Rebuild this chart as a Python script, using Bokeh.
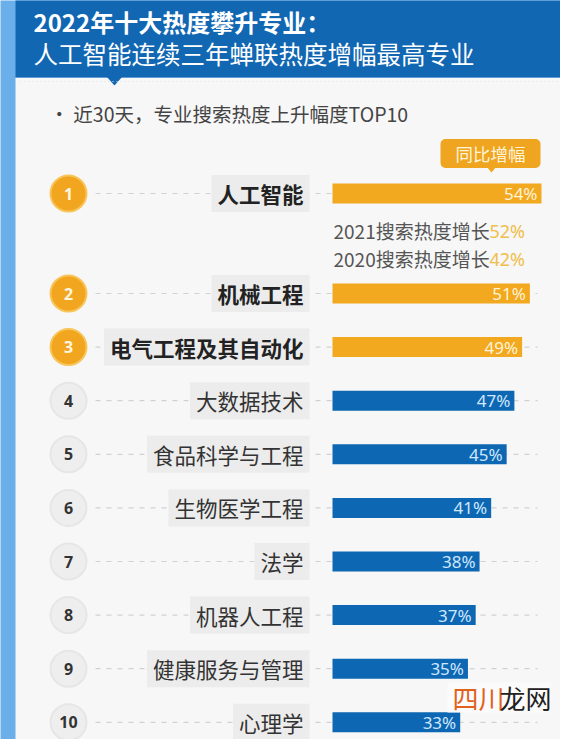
from bokeh.plotting import figure
from bokeh.models import Range1d, ColumnDataSource
from bokeh.core.properties import value
from bokeh.embed import file_html
from bokeh.resources import INLINE

# ---------------- data ----------------
title_line1 = "2022年十大热度攀升专业："
title_line2 = "人工智能连续三年蝉联热度增幅最高专业"
subtitle = "· 近30天，专业搜索热度上升幅度TOP10"
tag_label = "同比增幅"

ranks = [1, 2, 3, 4, 5, 6, 7, 8, 9, 10]
majors = ["人工智能", "机械工程", "电气工程及其自动化", "大数据技术", "食品科学与工程",
          "生物医学工程", "法学", "机器人工程", "健康服务与管理", "心理学"]
growth = [54, 51, 49, 47, 45, 41, 38, 37, 35, 33]

ai_history_years = ["2021", "2020"]
ai_history_growth = [52, 42]
ai_history_text = "搜索热度增长"

watermark_a = "四川"
watermark_b = "龙网"

# ---------------- layout / style ----------------
FONT = "Noto Sans CJK SC"
W, H = 560, 739
CARD_L, CARD_R = 15, 567
HEADER_B = 77
BAR_X0 = 332          # pixel where 0 % starts
PX_PER_PCT = 3.87     # pixels per percentage point
ROW1_Y, ROW2_Y, ROW_STEP = 193, 293, 53.6
CIRCLE_X = 68
LABEL_RIGHT = 309
DASH_X0, DASH_X1 = 95, 537
TOP_N = 3

ORANGE = "#F2A81F"
BLUE = "#0D67B3"
HEADER_BLUE = "#1267B3"
OUTER_BLUE = "#6AAEEA"
CARD = "#F7F7F7"

row_y = [ROW1_Y if i == 0 else ROW2_Y + ROW_STEP * (i - 1) for i in range(len(ranks))]
is_top = [r <= TOP_N for r in ranks]

src = ColumnDataSource(dict(
    rank=[str(r) for r in ranks],
    major=majors,
    growth=growth,
    pct=[f"{g}%" for g in growth],
    y=row_y,
    bar_color=[ORANGE if t else BLUE for t in is_top],
    pct_color=["#FFF4D6" if t else "#CFE8FF" for t in is_top],
    circ_fill=["#F2A51E" if t else "#EEEEEE" for t in is_top],
    circ_line=["#F7C55A" if t else "#E6E6E6" for t in is_top],
    num_color=["#FFF6E0" if t else "#333333" for t in is_top],
))
top_idx = [i for i, t in enumerate(is_top) if t]
rest_idx = [i for i, t in enumerate(is_top) if not t]
src_top = ColumnDataSource(dict(major=[majors[i] for i in top_idx], y=[row_y[i] for i in top_idx]))
src_rest = ColumnDataSource(dict(major=[majors[i] for i in rest_idx], y=[row_y[i] for i in rest_idx]))

p = figure(width=W, height=H, x_range=Range1d(0, W), y_range=Range1d(H, 0),
           output_backend="svg", toolbar_location=None,
           x_axis_location=None, y_axis_location=None, min_border=0,
           outline_line_color=None, background_fill_color=OUTER_BLUE,
           border_fill_color=OUTER_BLUE)
p.grid.visible = False
p.extra_x_ranges = {"val": Range1d((0 - BAR_X0) / PX_PER_PCT, (W - BAR_X0) / PX_PER_PCT)}

# card and header
p.quad(left=CARD_L, right=CARD_R, top=HEADER_B, bottom=H + 30, fill_color=CARD, line_color=None)
p.quad(left=CARD_L, right=CARD_R, top=-10, bottom=HEADER_B, fill_color=HEADER_BLUE, line_color=None)
p.patch(x=[106, 122, 114], y=[HEADER_B - 1, HEADER_B - 1, HEADER_B + 8], fill_color=HEADER_BLUE, line_color=None)
p.segment(x0=[CARD_L + 5], y0=[HEADER_B + 4], x1=[CARD_R - 5], y1=[HEADER_B + 4],
          line_color="#E2E2E2", line_dash="1 3", line_width=1)

p.text(x=[33], y=[21], text=[title_line1], text_font=value(FONT), text_font_size="24px",
       text_font_style="bold", text_color="#FFFFFF", text_baseline="middle")
p.text(x=[33], y=[53], text=[title_line2], text_font=value(FONT), text_font_size="24.5px",
       text_color="#FFFFFF", text_baseline="middle")
p.text(x=[49], y=[113], text=[subtitle], text_font=value(FONT), text_font_size="19.5px",
       text_color="#444444", text_baseline="middle")

# dashed guide lines
p.segment(x0=DASH_X0, y0="y", x1=DASH_X1, y1="y", source=src,
          line_color="#D2D2D2", line_dash="5 6", line_width=1.2)

# rank circles
p.circle(x=CIRCLE_X, y="y", radius=18, source=src, fill_color="circ_fill",
         line_color="circ_line", line_width=2)
p.text(x=CIRCLE_X, y="y", text="rank", source=src, text_font=value("Noto Sans"),
       text_font_size="16px", text_font_style="bold", text_color="num_color",
       text_align="center", text_baseline="middle")

# major labels with boxes
p.text(x=LABEL_RIGHT, y="y", text="major", source=src_top, text_font=value(FONT),
       text_font_size="21.5px", text_font_style="bold", text_color="#222222",
       text_align="right", text_baseline="middle",
       background_fill_color="#ECECEC", padding=(6, 3))
p.text(x=LABEL_RIGHT, y="y", text="major", source=src_rest, text_font=value(FONT),
       text_font_size="21.5px", text_color="#333333",
       text_align="right", text_baseline="middle",
       background_fill_color="#ECECEC", padding=(6, 3))

# bars
p.hbar(y="y", left=0, right="growth", height=20, source=src, x_range_name="val",
       fill_color="bar_color", line_color=None)
p.text(x="growth", y="y", text="pct", source=src, x_range_name="val", x_offset=-4,
       text_font=value("Noto Sans"), text_font_size="17px", text_color="pct_color",
       text_align="right", text_baseline="middle")

# tag
p.text(x=[490], y=[153], text=[tag_label], text_font=value(FONT), text_font_size="17.5px",
       text_color="#FFF4DA", text_align="center", text_baseline="middle",
       background_fill_color="#EFA520", padding=(15, 2), border_radius=5)
p.patch(x=[486, 496, 491], y=[166, 166, 172], fill_color="#EFA520", line_color=None)

# AI history lines
hist_y = [ROW1_Y + 37, ROW1_Y + 65]
p.text(x=[0, 0], y=hist_y, text=[yr + ai_history_text for yr in ai_history_years],
       x_range_name="val", x_offset=1, text_font=value(FONT), text_font_size="19px",
       text_color="#555555", text_baseline="middle")
p.text(x=[0, 0], y=hist_y, text=[f"{g}%" for g in ai_history_growth],
       x_range_name="val", x_offset=157, text_font=value("Noto Sans"), text_font_size="18px",
       text_color="#F0BE4A", text_baseline="middle")

# watermark
wm_y = (row_y[8] + row_y[9]) / 2 + 2
p.quad(left=[447], right=[550], top=[wm_y - 15], bottom=[wm_y + 15], fill_color="#FBFBFB", line_color=None)
p.text(x=[452], y=[wm_y], text=[watermark_a], text_font=value(FONT), text_font_size="26px",
       text_color="#E0621C", text_baseline="middle")
p.text(x=[499], y=[wm_y], text=[watermark_b], text_font=value(FONT), text_font_size="26px",
       text_color="#222222", text_baseline="middle")

open("out.html", "w").write(file_html(p, INLINE))
